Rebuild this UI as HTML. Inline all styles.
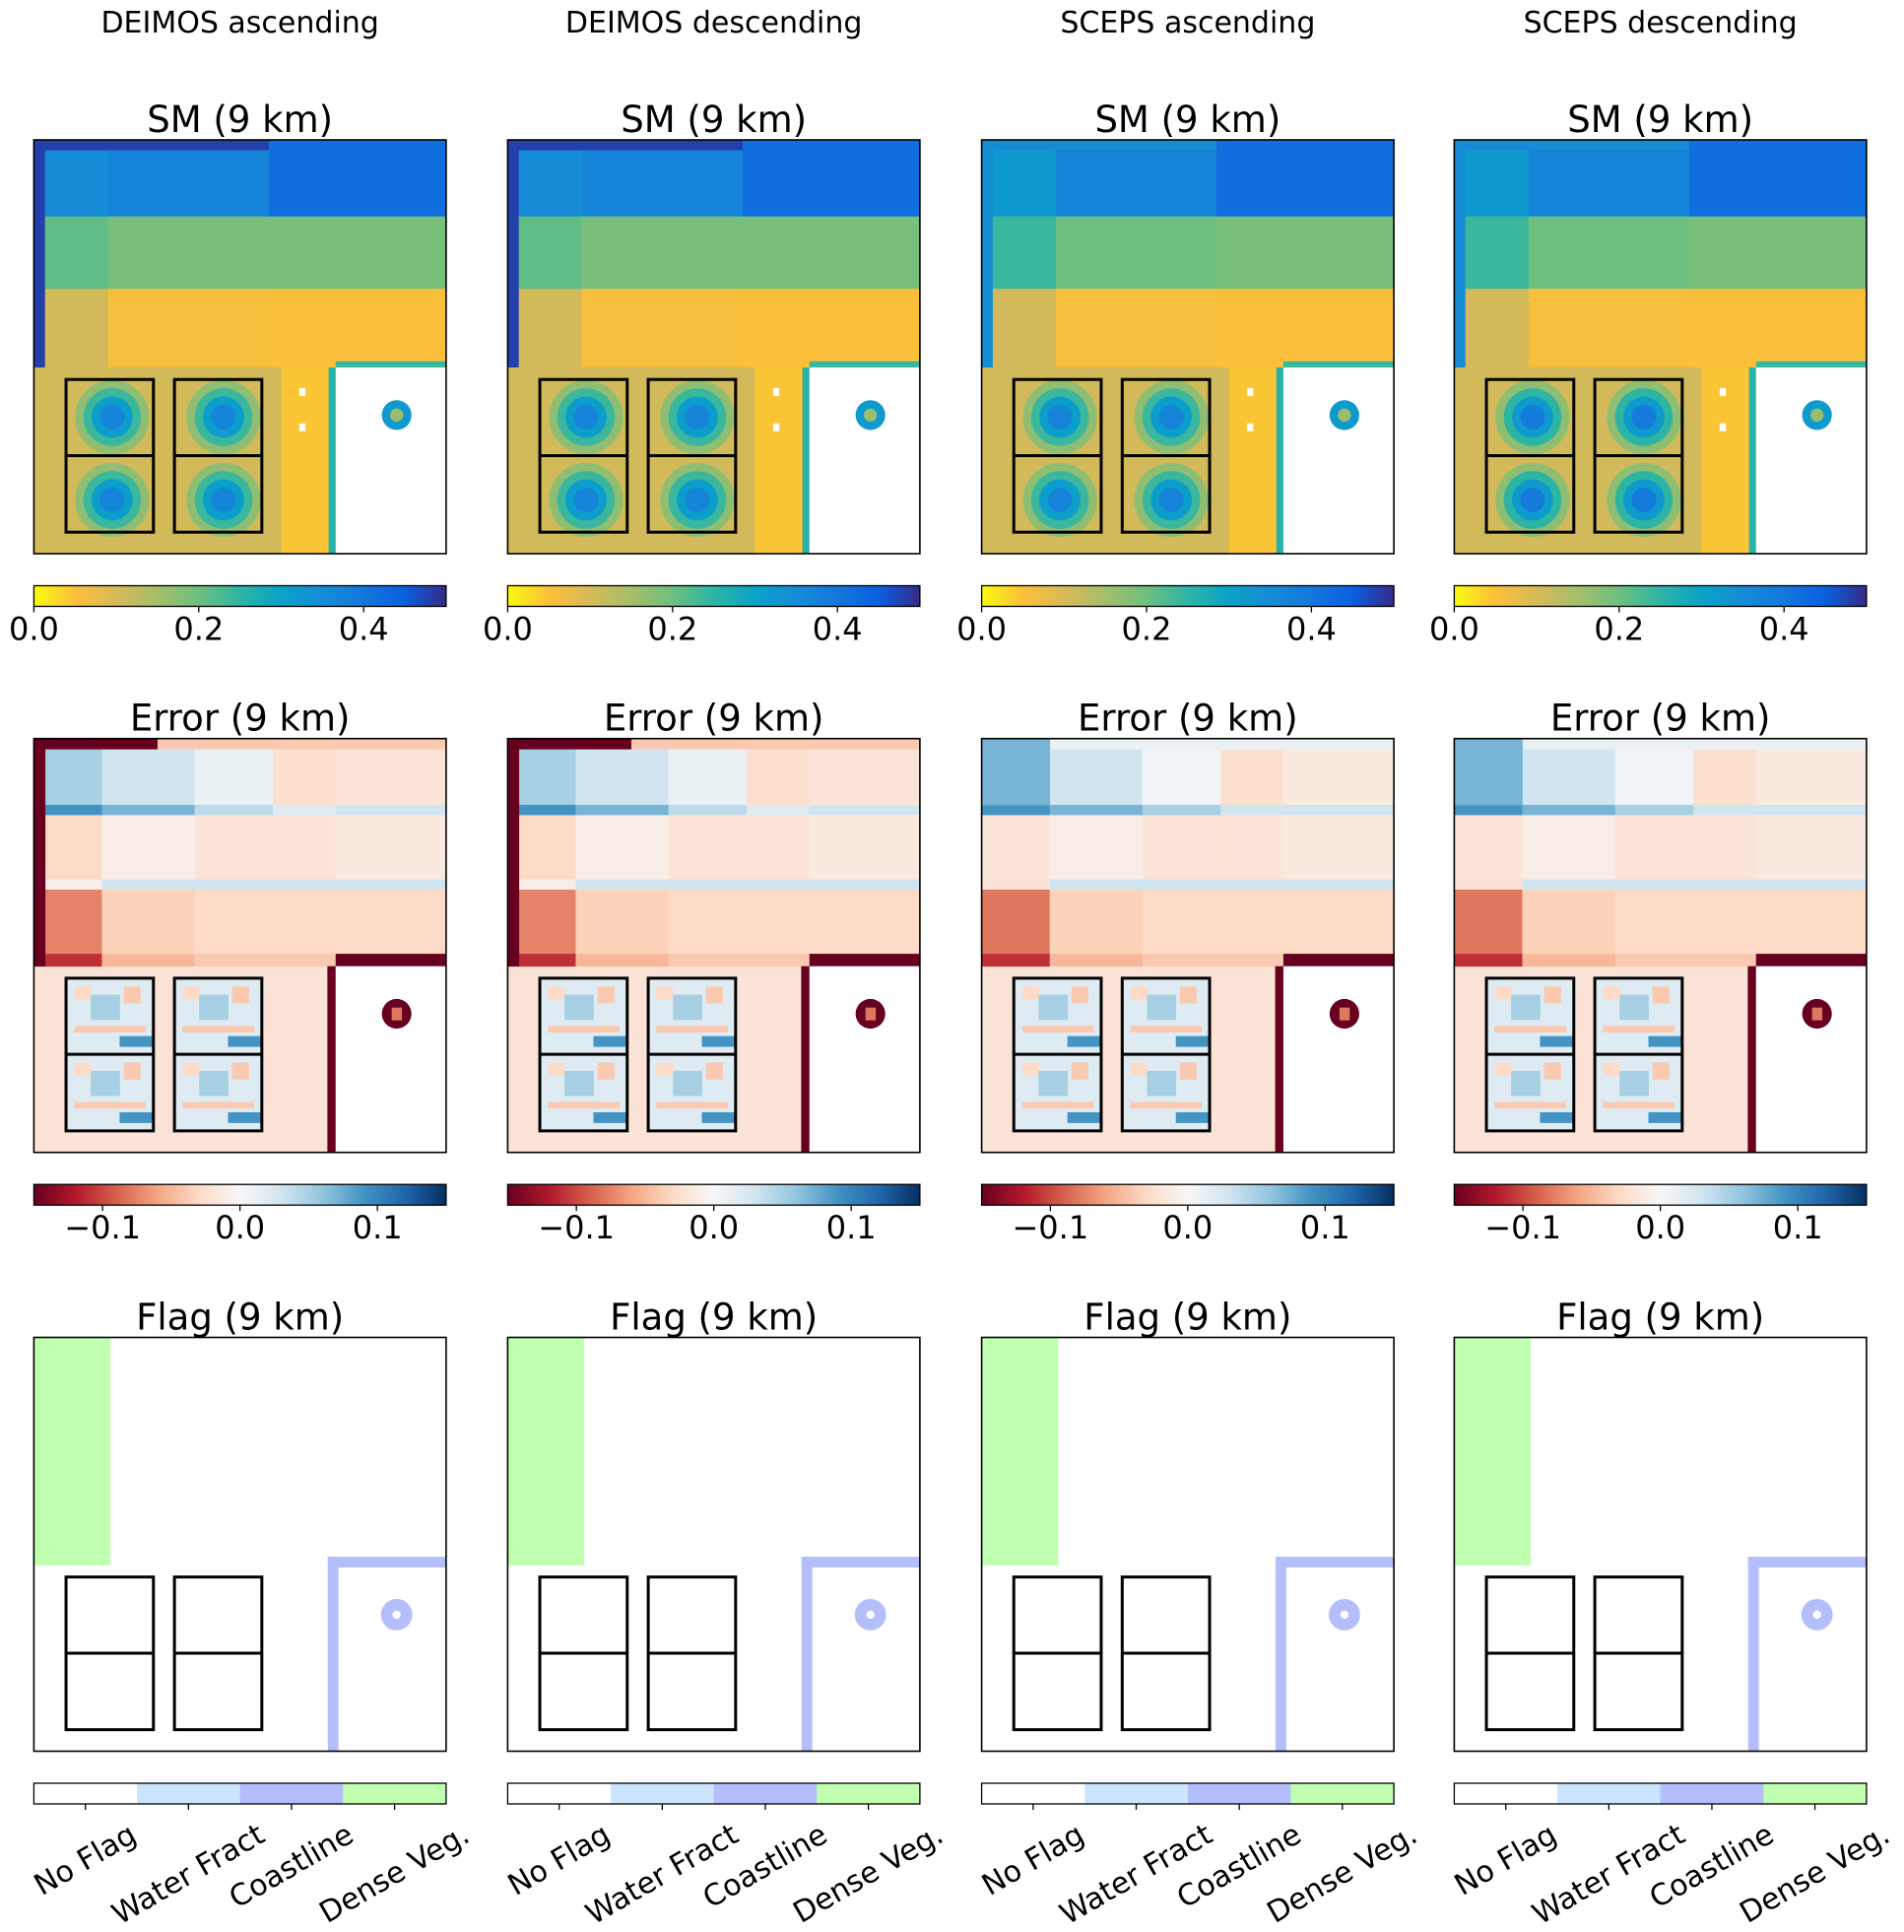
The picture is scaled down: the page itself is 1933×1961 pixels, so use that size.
<!DOCTYPE html>
<html><head><meta charset="utf-8"><style>
html,body{margin:0;padding:0;background:#fff;}
svg{display:block;font-family:"DejaVu Sans","Liberation Sans",sans-serif;}
</style></head><body>
<svg id="fig" width="1933" height="1961" viewBox="0 0 1933 1961" xmlns="http://www.w3.org/2000/svg"></svg>
<script>
// ---- data ----
const columnTitles = ["DEIMOS ascending","DEIMOS descending","SCEPS ascending","SCEPS descending"];
const rowTitles = ["SM (9 km)","Error (9 km)","Flag (9 km)"];
const smTicks = [0.0, 0.2, 0.4];
const smTickLabels = ["0.0","0.2","0.4"];
const errTicks = [-0.1, 0.0, 0.1];
const errTickLabels = ["\u22120.1","0.0","0.1"];
const flagCategories = ["No Flag","Water Fract","Coastline","Dense Veg."];
// SM values per column (segments left, mid, right)
const smFrame = [0.48, 0.48, 0.35, 0.35];
const smTopBand = [[0.35,0.37,0.42],[0.35,0.37,0.42],[0.32,0.37,0.42],[0.32,0.37,0.42]];
const smMidBand = [[0.21,0.19,0.19],[0.21,0.19,0.19],[0.24,0.2,0.19],[0.24,0.2,0.19]];
const smLowBand = [[0.105,0.055,0.05],[0.105,0.055,0.05],[0.105,0.055,0.05],[0.105,0.055,0.05]];
const smBottom = [[0.105,0.045],[0.105,0.045],[0.105,0.045],[0.105,0.045]];
const smBlob = [[0.17,0.24,0.31,0.37],[0.17,0.24,0.31,0.37],[0.17,0.24,0.31,0.37],[0.17,0.25,0.32,0.39]];
// Error values per column
const errFrame = [-0.15,-0.15,null,null];
const errTopBand = [[0.05,0.03,0.01,-0.025,-0.02],[0.05,0.03,0.01,-0.025,-0.02],[0.07,0.03,0.005,-0.025,-0.015],[0.07,0.03,0.005,-0.025,-0.015]];
const errTopLine = [[0.09,0.07,0.04,0.02,0.03],[0.09,0.07,0.04,0.02,0.03],[0.09,0.07,0.05,0.03,0.03],[0.09,0.07,0.05,0.03,0.03]];
const errMidBand = [[-0.03,-0.01,-0.02,-0.02,-0.015],[-0.03,-0.01,-0.02,-0.02,-0.015],[-0.02,-0.01,-0.02,-0.02,-0.015],[-0.02,-0.01,-0.02,-0.02,-0.015]];
const errMidLine = [[-0.01,0.03,0.03,0.03,0.03],[-0.01,0.03,0.03,0.03,0.03],[-0.02,0.03,0.03,0.03,0.03],[-0.02,0.03,0.03,0.03,0.03]];
const errLowBand = [[-0.075,-0.035,-0.03,-0.03,-0.03],[-0.075,-0.035,-0.03,-0.03,-0.03],[-0.08,-0.035,-0.03,-0.03,-0.03],[-0.08,-0.035,-0.03,-0.03,-0.03]];
const errLowLine = [[-0.11,-0.05,-0.04,-0.04,-0.15],[-0.11,-0.05,-0.04,-0.04,-0.15],[-0.11,-0.05,-0.04,-0.04,-0.15],[-0.11,-0.05,-0.04,-0.04,-0.15]];
const errBottom = [-0.02,-0.02,-0.02,-0.02];
const errBox = [[0.02,0.09,-0.04],[0.02,0.09,-0.04],[0.02,0.09,-0.04],[0.02,0.09,-0.04]];
const flagColors = ["#ffffff","#cce5ff","#b3befa","#c0ffb0"];

// ---- layout ----
const colLeft = [34.4, 515.4, 996.6, 1476.4];
const PW = 418.5, PH = 420;
const rowTop = [142, 749.7, 1357.5];
const CB_OFF = 452.5, CB_H = 21;
const svg = document.getElementById('fig');
const NS = "http://www.w3.org/2000/svg";
function el(tag, attrs, parent){const e=document.createElementNS(NS,tag);for(const k in attrs)e.setAttribute(k,attrs[k]);(parent||svg).appendChild(e);return e;}

function hex(h){return [parseInt(h.slice(1,3),16),parseInt(h.slice(3,5),16),parseInt(h.slice(5,7),16)];}
function interp(stops, t){
  t=Math.max(0,Math.min(1,t));
  const n=stops.length-1, f=t*n, i=Math.min(n-1,Math.floor(f)), u=f-i;
  const a=hex(stops[i]), b=hex(stops[i+1]);
  return "rgb("+a.map((v,k)=>Math.round(v+(b[k]-v)*u)).join(",")+")";
}
const smStops = ["#f9fb0e","#fcbf3a","#d7ba58","#a5be6a","#6dbf7f","#2db5a4","#0aa3c8","#168cd6","#1477dc","#0b60e0","#352a87"];
const rdbuStops = ["#67001f","#b2182b","#d6604d","#f4a582","#fddbc7","#f7f7f7","#d1e5f0","#92c5de","#4393c3","#2166ac","#053061"];
const smColor = v => interp(smStops, v/0.5);
const errColor = v => interp(rdbuStops, (v+0.15)/0.3);

function xs(c, f){return colLeft[c]+f*PW;}
function ys(r, f){return rowTop[r]+f*PH;}
function cell(g, c, r, x0, y0, x1, y1, color, name){
  const e=el('rect',{x:xs(c,x0),y:ys(r,y0),width:(x1-x0)*PW+0.4,height:(y1-y0)*PH+0.4,fill:color},g);
  
  
  return e;
}
const segX = [[0.027,0.18],[0.18,0.57],[0.57,1]];
const eSegX = [[0.027,0.165],[0.165,0.39],[0.39,0.58],[0.58,0.732],[0.732,1]];
const boxes = [[0.078,0.29],[0.341,0.553]];
const blobs = [[0.19,0.67],[0.19,0.87],[0.46,0.67],[0.46,0.87]];

function drawBoxes(g,c,r){
  boxes.forEach(b=>{
    const e=el('rect',{x:xs(c,b[0]),y:ys(r,0.579),width:(b[1]-b[0])*PW,height:0.369*PH,fill:'none',stroke:'#000','stroke-width':3},g);
    
    
    const l=el('line',{x1:xs(c,b[0]),x2:xs(c,b[1]),y1:ys(r,0.763),y2:ys(r,0.763),stroke:'#000','stroke-width':3},g);
    
    
  });
}
function frame(c,r){
  const e=el('rect',{x:xs(c,0),y:ys(r,0),width:PW,height:PH,fill:'none',stroke:'#000','stroke-width':1.6});
  
  
}
function title(c,r,txt){
  const t=el('text',{x:xs(c,0.5),y:rowTop[r]-8,'font-size':37,'text-anchor':'middle',fill:'#000'});
  t.textContent=txt;
  
  
}
function colorbar(c,r,stops,vmin,vmax,ticks,labels,name){
  const g=el('g',{});
  
  
  const y0=rowTop[r]+CB_OFF;
  const id='grad'+c+'_'+r;
  const gr=el('linearGradient',{id:id,x1:0,x2:1,y1:0,y2:0},g);
  stops.forEach((s,i)=>el('stop',{offset:i/(stops.length-1),'stop-color':s},gr));
  el('rect',{x:xs(c,0),y:y0,width:PW,height:CB_H,fill:'url(#'+id+')',stroke:'#000','stroke-width':1.3},g);
  ticks.forEach((v,i)=>{
    const x=xs(c,(v-vmin)/(vmax-vmin));
    el('line',{x1:x,x2:x,y1:y0+CB_H,y2:y0+CB_H+6,stroke:'#000','stroke-width':1.3},g);
    const t=el('text',{x:x,y:y0+CB_H+34,'font-size':32,'text-anchor':'middle'},g);
    t.textContent=labels[i];
    
    
  });
}

// column headers
columnTitles.forEach((t,c)=>{
  const e=el('text',{x:xs(c,0.5),y:33,'font-size':30,'text-anchor':'middle'});
  e.textContent=t;
  
  
});

for(let c=0;c<4;c++){
  // ---------- SM ----------
  let r=0;
  let g=el('g',{});  
  cell(g,c,r,0,0,1,0.55,smColor(smFrame[c]),'sm-frame');
  segX.forEach((s,i)=>{
    cell(g,c,r,s[0],i===2?0:0.025,s[1],0.185,smColor(smTopBand[c][i]),'sm-top-band');
    cell(g,c,r,s[0],0.185,s[1],0.36,smColor(smMidBand[c][i]),'sm-mid-band');
    cell(g,c,r,s[0],0.36,s[1],0.55,smColor(smLowBand[c][i]),'sm-low-band');
  });
  cell(g,c,r,0,0.55,0.732,1,smColor(smBottom[c][0]),'sm-bottom');
  cell(g,c,r,0.6,0.55,0.715,1,smColor(smBottom[c][1]),'sm-bottom-strip');
  cell(g,c,r,0.715,0.55,0.732,1,smColor(0.26),'sm-coast-edge');
  cell(g,c,r,0.732,0.535,1,0.55,smColor(0.24),'sm-coast-edge');
  cell(g,c,r,0.732,0.55,1,1,'#ffffff','sm-nodata');
  blobs.forEach(b=>{
    smBlob[c].forEach((v,k)=>{
      const e=el('circle',{cx:xs(c,b[0]),cy:ys(r,b[1]),r:(0.09-k*0.02)*PW,fill:smColor(v)},g);
      
      
    });
  });
  [[0.644,0.6],[0.644,0.685]].forEach(p=>cell(g,c,r,p[0],p[1],p[0]+0.014,p[1]+0.018,'#ffffff','sm-gap'));
  let e=el('circle',{cx:xs(c,0.88),cy:ys(r,0.665),r:0.036*PW,fill:smColor(0.32)},g);
   
  e=el('circle',{cx:xs(c,0.88),cy:ys(r,0.665),r:0.016*PW,fill:smColor(0.16)},g);
   
  drawBoxes(g,c,r); frame(c,r); title(c,r,rowTitles[0]);
  colorbar(c,r,smStops,0,0.5,smTicks,smTickLabels,'sm-colorbar');

  // ---------- Error ----------
  r=1;
  g=el('g',{});  
  cell(g,c,r,0,0,1,1,errColor(errBottom[c]),'err-background');
  eSegX.forEach((s,i)=>{
    const x0 = (i===0 && errFrame[c]===null) ? 0 : s[0];
    cell(g,c,r,x0,0.025,s[1],0.16,errColor(errTopBand[c][i]),'err-top-band');
    cell(g,c,r,x0,0.16,s[1],0.185,errColor(errTopLine[c][i]),'err-top-line');
    cell(g,c,r,x0,0.185,s[1],0.34,errColor(errMidBand[c][i]),'err-mid-band');
    cell(g,c,r,x0,0.34,s[1],0.365,errColor(errMidLine[c][i]),'err-mid-line');
    cell(g,c,r,x0,0.365,s[1],0.52,errColor(errLowBand[c][i]),'err-low-band');
    cell(g,c,r,x0,0.52,s[1],0.55,errColor(errLowLine[c][i]),'err-low-line');
  });
  if(errFrame[c]!==null){
    cell(g,c,r,0,0,0.027,0.55,errColor(errFrame[c]),'err-frame-left');
    cell(g,c,r,0,0,0.3,0.025,errColor(errFrame[c]),'err-frame-top');
    cell(g,c,r,0.3,0,1,0.025,errColor(-0.04),'err-frame-top');
  } else {
    cell(g,c,r,0,0,1,0.025,errColor(0.01),'err-frame-top');
    cell(g,c,r,0,0,0.165,0.16,errColor(errTopBand[c][0]),'err-top-band');
  }
  cell(g,c,r,0.712,0.55,0.732,1,errColor(-0.15),'err-coast-edge');
  cell(g,c,r,0.732,0.55,1,1,'#ffffff','err-nodata');
  boxes.forEach(b=>{
    [0.579,0.763].forEach(y=>{
      cell(g,c,r,b[0],y,b[1],y+0.184,errColor(errBox[c][0]),'err-box-fill');
      cell(g,c,r,b[0]+0.02,y+0.02,b[0]+0.06,y+0.05,errColor(-0.03),'err-box-patch');
      cell(g,c,r,b[0]+0.06,y+0.04,b[0]+0.13,y+0.1,errColor(errBox[c][0]+0.03),'err-box-patch');
      cell(g,c,r,b[0]+0.14,y+0.02,b[0]+0.18,y+0.06,errColor(-0.04),'err-box-patch');
      cell(g,c,r,b[0]+0.02,y+0.115,b[1]-0.02,y+0.13,errColor(errBox[c][2]),'err-box-strip');
      cell(g,c,r,b[0]+0.13,y+0.14,b[1],y+0.165,errColor(errBox[c][1]),'err-box-strip');
    });
  });
  e=el('circle',{cx:xs(c,0.88),cy:ys(r,0.665),r:0.036*PW,fill:errColor(-0.15)},g);
   
  cell(g,c,r,0.868,0.65,0.892,0.68,errColor(-0.08),'err-lake-center');
  drawBoxes(g,c,r); frame(c,r); title(c,r,rowTitles[1]);
  colorbar(c,r,rdbuStops,-0.15,0.15,errTicks,errTickLabels,'error-colorbar');

  // ---------- Flag ----------
  r=2;
  g=el('g',{});  
  cell(g,c,r,0,0,0.185,0.55,flagColors[3],'flag-dense-veg');
  cell(g,c,r,0.713,0.53,0.738,1,flagColors[2],'flag-coastline');
  cell(g,c,r,0.713,0.53,1,0.555,flagColors[2],'flag-coastline');
  e=el('circle',{cx:xs(c,0.88),cy:ys(r,0.67),r:0.024*PW,fill:'none',stroke:flagColors[2],'stroke-width':0.028*PW},g);
   
  drawBoxes(g,c,r); frame(c,r); title(c,r,rowTitles[2]);
  // categorical colorbar
  const cg=el('g',{});  
  const y0=rowTop[r]+CB_OFF;
  flagCategories.forEach((lab,i)=>{
    el('rect',{x:xs(c,i/4),y:y0,width:PW/4+0.5,height:CB_H,fill:flagColors[i]},cg);
  });
  el('rect',{x:xs(c,0),y:y0,width:PW,height:CB_H,fill:'none',stroke:'#000','stroke-width':1.3},cg);
  flagCategories.forEach((lab,i)=>{
    const x=xs(c,(i+0.5)/4);
    el('line',{x1:x,x2:x,y1:y0+CB_H,y2:y0+CB_H+6,stroke:'#000','stroke-width':1.3},cg);
    const t=el('text',{x:0,y:0,'font-size':30,'text-anchor':'middle','dominant-baseline':'central'},cg);
    t.textContent=lab;
    
    
    const w=t.getComputedTextLength();
    const cy=y0+CB_H+14+(w*0.5+34*0.866)/2;
    t.setAttribute('transform','translate('+x+','+cy+') rotate(-30)');
  });
}
</script>
</body></html>
